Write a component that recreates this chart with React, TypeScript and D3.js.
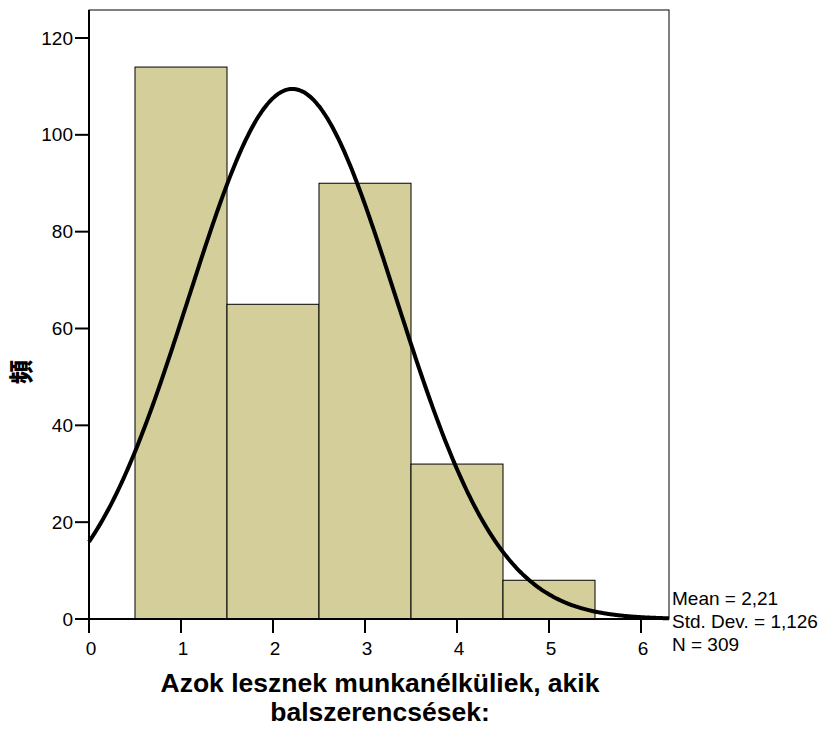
import React from "react";
import * as d3 from "d3";

const binCenters = [1, 2, 3, 4, 5];
const binCounts = [114, 65, 90, 32, 8];
const yTicks = [0, 20, 40, 60, 80, 100, 120];
const xTicks = [0, 1, 2, 3, 4, 5, 6];
const mean = 2.21;
const sd = 1.126;
const n = 309;
const statLines = ["Mean = 2,21", "Std. Dev. = 1,126", "N = 309"];
const titleLines = ["Azok lesznek munkanélküliek, akik", "balszerencsések:"];
const yLabel = "頻";

export default function App() {
  const W = 827, H = 729;
  const left = 89, right = 669, top = 10, bottom = 619;
  const x = d3.scaleLinear().domain([0, 6]).range([left, left + 552]);
  const xMax = x.invert(right);
  const y = d3.scaleLinear().domain([0, 120]).range([bottom, 38]);
  const pdf = (v: number) => (n * 1 / (sd * Math.sqrt(2 * Math.PI))) * Math.exp(-((v - mean) ** 2) / (2 * sd * sd));
  const pts = d3.range(0, 301).map((i) => (i / 300) * xMax);
  const line = d3.line<number>().x((v) => x(v)).y((v) => y(pdf(v))).curve(d3.curveBasis);
  const font = "Arial, 'Liberation Sans', sans-serif";
  return (
    <svg width={W} height={H} style={{ position: "absolute", left: 0, top: 0, background: "#fff" }}>
      <rect x={left} y={top} width={right - left} height={bottom - top} fill="#fff" stroke="#000" strokeWidth={1} />
      {binCenters.map((c, i) => (
        <rect key={i} x={x(c - 0.5)} y={y(binCounts[i])} width={x(c + 0.5) - x(c - 0.5)} height={bottom - y(binCounts[i])}
          fill="#d3ce9a" stroke="#000" strokeWidth={1} />
      ))}
      <path d={line(pts) || ""} fill="none" stroke="#000" strokeWidth={4} />
      <line x1={left} x2={left} y1={top} y2={bottom + 14} stroke="#000" strokeWidth={2} />
      <line x1={left - 14} x2={right} y1={bottom} y2={bottom} stroke="#000" strokeWidth={2} />
      {yTicks.map((t) => (
        <g key={t}>
          <line x1={left - 14} x2={left} y1={y(t)} y2={y(t)} stroke="#000" strokeWidth={2} />
          <text x={left - 16} y={y(t)} dy="0.35em" textAnchor="end" fontFamily={font} fontSize={19}>{t}</text>
        </g>
      ))}
      {xTicks.map((t) => (
        <g key={t}>
          <line x1={x(t)} x2={x(t)} y1={bottom} y2={bottom + 14} stroke="#000" strokeWidth={2} />
          <text x={x(t) + 2} y={bottom + 29} dy="0.35em" textAnchor="middle" fontFamily={font} fontSize={19}>{t}</text>
        </g>
      ))}
      {statLines.map((s, i) => (
        <text key={i} x={672} y={598 + i * 23} dy="0.35em" fontFamily={font} fontSize={19}>{s}</text>
      ))}
      {titleLines.map((s, i) => (
        <text key={i} x={380} y={683 + i * 29} dy="0.35em" textAnchor="middle" fontFamily={font} fontSize={26.5} fontWeight="bold">{s}</text>
      ))}
      <text transform="translate(22,372) rotate(-90)" textAnchor="middle" dy="0.35em" fontFamily="'Noto Sans CJK SC', sans-serif" fontSize={24} fontWeight="900">{yLabel}</text>
    </svg>
  );
}
